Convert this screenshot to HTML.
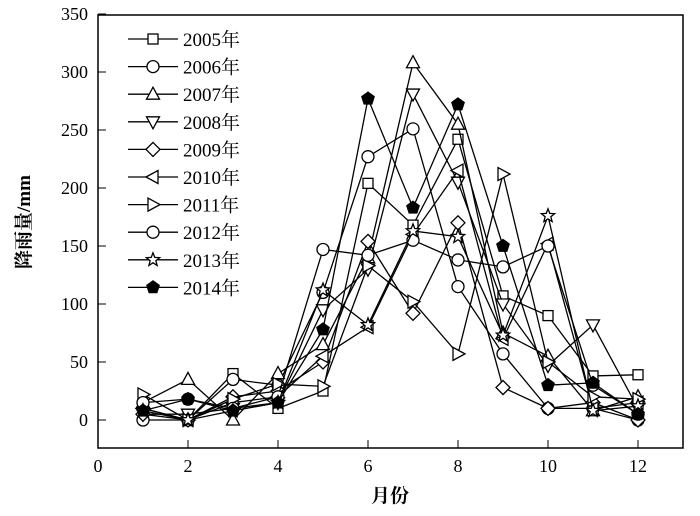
<!DOCTYPE html>
<html><head><meta charset="utf-8"><style>
html,body{margin:0;padding:0;background:#fff;}
svg{display:block;font-family:"Liberation Serif","Noto Serif CJK SC",serif;}
</style></head><body>
<svg id="chart" width="700" height="516" viewBox="0 0 700 516" xmlns="http://www.w3.org/2000/svg">
<g id="axes"></g><g id="series"></g><g id="legend"></g>
</svg>
<script>
const months=[1,2,3,4,5,6,7,8,9,10,11,12];
const years=["2005年","2006年","2007年","2008年","2009年","2010年","2011年","2012年","2013年","2014年"];
const s2005=[10,0,40,10,25,204,168,242,107,90,38,39];
const s2006=[0,0,35,30,110,227,251,115,57,10,10,0];
const s2007=[15,35,0,40,65,140,308,255,75,55,8,20];
const s2008=[5,5,10,15,95,130,281,205,100,47,82,10];
const s2009=[5,0,20,25,50,154,92,170,28,10,15,0];
const s2010=[10,0,15,20,55,80,160,215,70,152,10,15];
const s2011=[22,0,18,31,29,133,102,57,212,50,20,18];
const s2012=[15,18,10,20,147,142,155,138,132,150,30,5];
const s2013=[8,0,8,15,112,82,163,158,73,176,8,12];
const s2014=[8,18,8,15,78,277,183,272,150,30,32,5];
const xTicks=[0,2,4,6,8,10,12];
const yTicks=[0,50,100,150,200,250,300,350];
const allSeries=[s2005,s2006,s2007,s2008,s2009,s2010,s2011,s2012,s2013,s2014];
const markers=["square","circle","up","down","diamond","left","right","circle","star","pentagon"];

const NS="http://www.w3.org/2000/svg";
const L=98,R=683,T=15,B=448;
const xs=v=>L+v*45;
const ys=v=>420-v*58/50;
function mk(tag,attrs,parent){const e=document.createElementNS(NS,tag);for(const k in attrs)e.setAttribute(k,attrs[k]);parent.appendChild(e);return e;}
const axes=document.getElementById('axes');
const frame=mk('rect',{x:L,y:T,width:R-L,height:B-T,fill:'none',stroke:'#000','stroke-width':1.5},axes);


xTicks.forEach(v=>{
  const t=mk('line',{x1:xs(v),x2:xs(v),y1:B,y2:B-8,stroke:'#000','stroke-width':1},axes);
  
  
  const lb=mk('text',{x:xs(v),y:B+24,'text-anchor':'middle','font-size':18},axes);
  lb.textContent=v;
  
  
});
yTicks.forEach(v=>{
  const t=mk('line',{x1:L,x2:L+8,y1:ys(v),y2:ys(v),stroke:'#000','stroke-width':1},axes);
  
  
  const lb=mk('text',{x:L-10,y:ys(v)+6,'text-anchor':'end','font-size':18},axes);
  lb.textContent=v;
  
  
});
const xt=mk('text',{x:390,y:502,'text-anchor':'middle','font-size':19,'font-weight':'bold'},axes);
xt.textContent='月份';


const yt=mk('text',{x:0,y:0,'text-anchor':'middle','font-size':19,'font-weight':'bold',transform:'translate(30,222) rotate(-90)'},axes);
yt.textContent='降雨量/mm';



function marker(type,x,y,parent){
  const st={fill:type==='pentagon'?'#000':'#fff',stroke:'#000','stroke-width':1.3};
  const r=6;let e;
  if(type==='square')e=mk('rect',Object.assign({x:x-5,y:y-5,width:10,height:10},st),parent);
  else if(type==='circle')e=mk('circle',Object.assign({cx:x,cy:y,r:r},st),parent);
  else{
    let pts;
    if(type==='up')pts=[[0,-7],[6.5,5],[-6.5,5]];
    else if(type==='down')pts=[[0,7],[6.5,-5],[-6.5,-5]];
    else if(type==='left')pts=[[-7,0],[5,-6.5],[5,6.5]];
    else if(type==='right')pts=[[7,0],[-5,-6.5],[-5,6.5]];
    else if(type==='diamond')pts=[[0,-7],[7,0],[0,7],[-7,0]];
    else if(type==='pentagon'){pts=[];for(let i=0;i<5;i++){const a=-Math.PI/2+i*2*Math.PI/5;pts.push([6.5*Math.cos(a),6.5*Math.sin(a)]);}}
    else if(type==='star'){pts=[];for(let i=0;i<10;i++){const a=-Math.PI/2+i*Math.PI/5;const rr=i%2?3:7;pts.push([rr*Math.cos(a),rr*Math.sin(a)]);}}
    e=mk('polygon',Object.assign({points:pts.map(p=>(x+p[0])+','+(y+p[1])).join(' ')},st),parent);
  }
  return e;
}
const sg=document.getElementById('series');
allSeries.forEach((arr,i)=>{
  const g=mk('g',{},sg);
  
  
  const pl=mk('polyline',{points:arr.map((v,j)=>xs(months[j])+','+ys(v)).join(' '),fill:'none',stroke:'#000','stroke-width':1.3},g);
  
  
  arr.forEach((v,j)=>{
    const m=marker(markers[i],xs(months[j]),ys(v),g);
    
    
  });
});
const lg=document.getElementById('legend');
years.forEach((yr,i)=>{
  const y=39+i*27.6;
  const g=mk('g',{},lg);
  
  
  mk('line',{x1:128,x2:178,y1:y,y2:y,stroke:'#000','stroke-width':1.3},g);
  marker(markers[i],153,y,g);
  const t=mk('text',{x:183,y:y+7,'font-size':19},g);
  t.textContent=yr;
});
</script>
</body></html>
